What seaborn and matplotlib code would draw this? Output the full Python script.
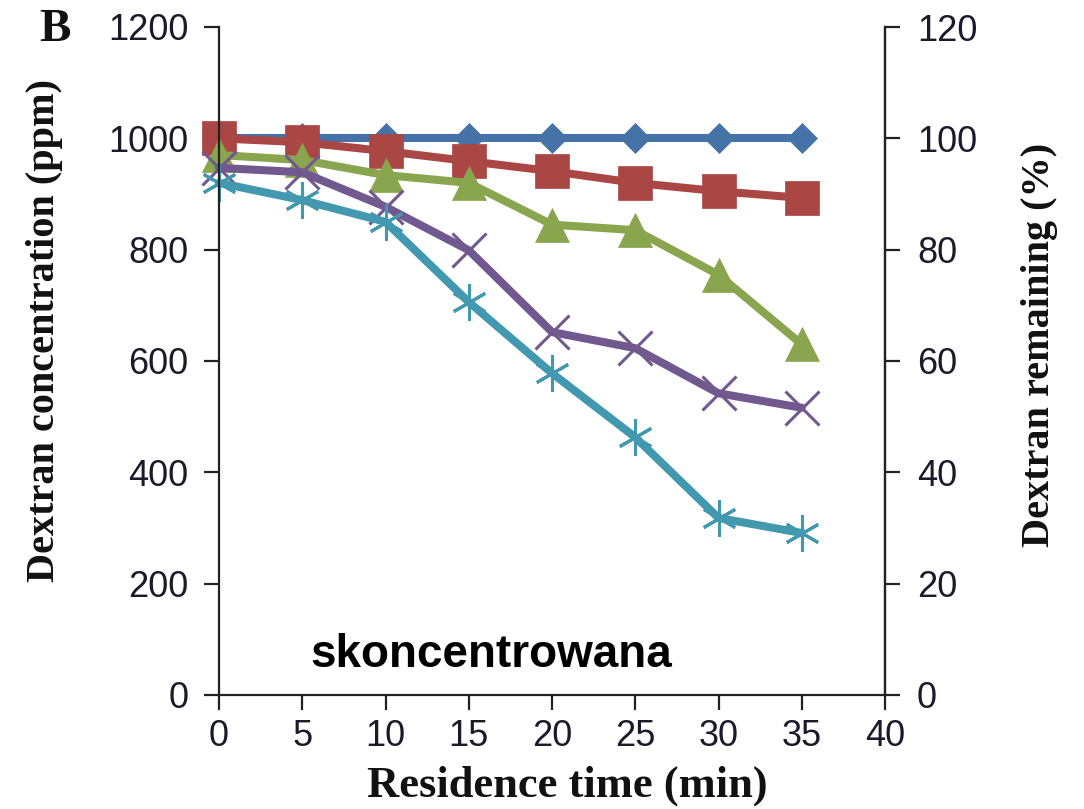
import matplotlib
matplotlib.use("Agg")
import matplotlib.pyplot as plt
import seaborn as sns
import pandas as pd

# ---- data ----
time_min = [0, 5, 10, 15, 20, 25, 30, 35]
blue_ppm = [1000, 1000, 1000, 1000, 1000, 1000, 1000, 1000]
red_ppm = [1000, 993, 977, 959, 941, 920, 905, 893]
green_ppm = [970, 961, 934, 920, 845, 835, 755, 630]
purple_ppm = [947, 939, 877, 799, 652, 623, 542, 516]
cyan_ppm = [920, 889, 850, 706, 578, 463, 318, 291]

series_names = ["s1", "s2", "s3", "s4", "s5"]
series_values = [blue_ppm, red_ppm, green_ppm, purple_ppm, cyan_ppm]
colors = ["#4572A7", "#AA4643", "#89A54E", "#71588F", "#4198AF"]
markers = ["D", "s", "^", "x", (6, 2, 0)]
msizes = [15, 24, 24, 24, 26]

left_ticks = [0, 200, 400, 600, 800, 1000, 1200]
right_ticks = [0, 20, 40, 60, 80, 100, 120]
x_ticks = [0, 5, 10, 15, 20, 25, 30, 35, 40]

sns.set_style("ticks")
sans = ["Liberation Sans", "DejaVu Sans"]
serif = ["Liberation Serif", "DejaVu Serif"]
plt.rcParams["font.family"] = sans

W, H = 1084, 809
fig = plt.figure(figsize=(W / 100, H / 100), dpi=100)
ax = fig.add_axes([219 / W, 1 - 695 / H, (885 - 219) / W, (695 - 27) / H])

for name, vals, c, m, ms in zip(series_names, series_values, colors, markers, msizes):
    df = pd.DataFrame({"t": time_min, "v": vals})
    filled = m in ("D", "s", "^")
    sns.lineplot(data=df, x="t", y="v", ax=ax, color=c, linewidth=5.8,
                 marker=m, markersize=ms,
                 markeredgecolor=c, markerfacecolor=c,
                 markeredgewidth=(0.5 if filled else 2.2),
                 solid_capstyle="round", solid_joinstyle="round", legend=False)

ax.set_xlim(0, 40)
ax.set_ylim(0, 1200)
ax.set_xticks(x_ticks)
ax.set_yticks(left_ticks)
ax.set_xlabel("")
ax.set_ylabel("")
ax.spines["top"].set_visible(False)
for side in ["left", "bottom", "right"]:
    ax.spines[side].set_linewidth(1.6)
    ax.spines[side].set_color("#222222")
ax.tick_params(axis="both", direction="out", length=11, width=1.6, color="#222222",
               labelsize=26, labelcolor="#1a1a2a")
ax.tick_params(axis="y", pad=11)
ax.tick_params(axis="x", pad=6)
for lab in ax.get_xticklabels() + ax.get_yticklabels():
    lab.set_family(sans)
ax.margins(0)
for ln in ax.lines:
    ln.set_clip_on(False)

ax2 = ax.twinx()
ax2.set_ylim(0, 120)
ax2.set_yticks(right_ticks)
ax2.spines["top"].set_visible(False)
ax2.spines["left"].set_visible(False)
ax2.spines["bottom"].set_visible(False)
ax2.spines["right"].set_linewidth(1.6)
ax2.spines["right"].set_color("#222222")
ax2.tick_params(axis="y", direction="out", length=11, width=1.6, color="#222222",
                labelsize=26, labelcolor="#1a1a2a", pad=12)
ax.set_zorder(ax2.get_zorder() + 1)
ax.patch.set_visible(False)

fig.text(45 / W, 1 - 330 / H, "Dextran concentration (ppm)", rotation=90,
         ha="center", va="center", family=serif, fontweight="bold", fontsize=29, color="#111111")
fig.text(1040 / W, 1 - 345 / H, "Dextran remaining (%)", rotation=90,
         ha="center", va="center", family=serif, fontweight="bold", fontsize=29, color="#111111")
fig.text(567 / W, 1 - 786 / H, "Residence time (min)",
         ha="center", va="center", family=serif, fontweight="bold", fontsize=32, color="#111111")
fig.text(55 / W, 1 - 30 / H, "B", ha="center", va="center", family=serif,
         fontweight="bold", fontsize=34, color="#111111")
fig.text(491 / W, 1 - 655 / H, "skoncentrowana", ha="center", va="center",
         family=sans, fontweight="bold", fontsize=33, color="black")

fig.savefig("out.png", dpi=100)
